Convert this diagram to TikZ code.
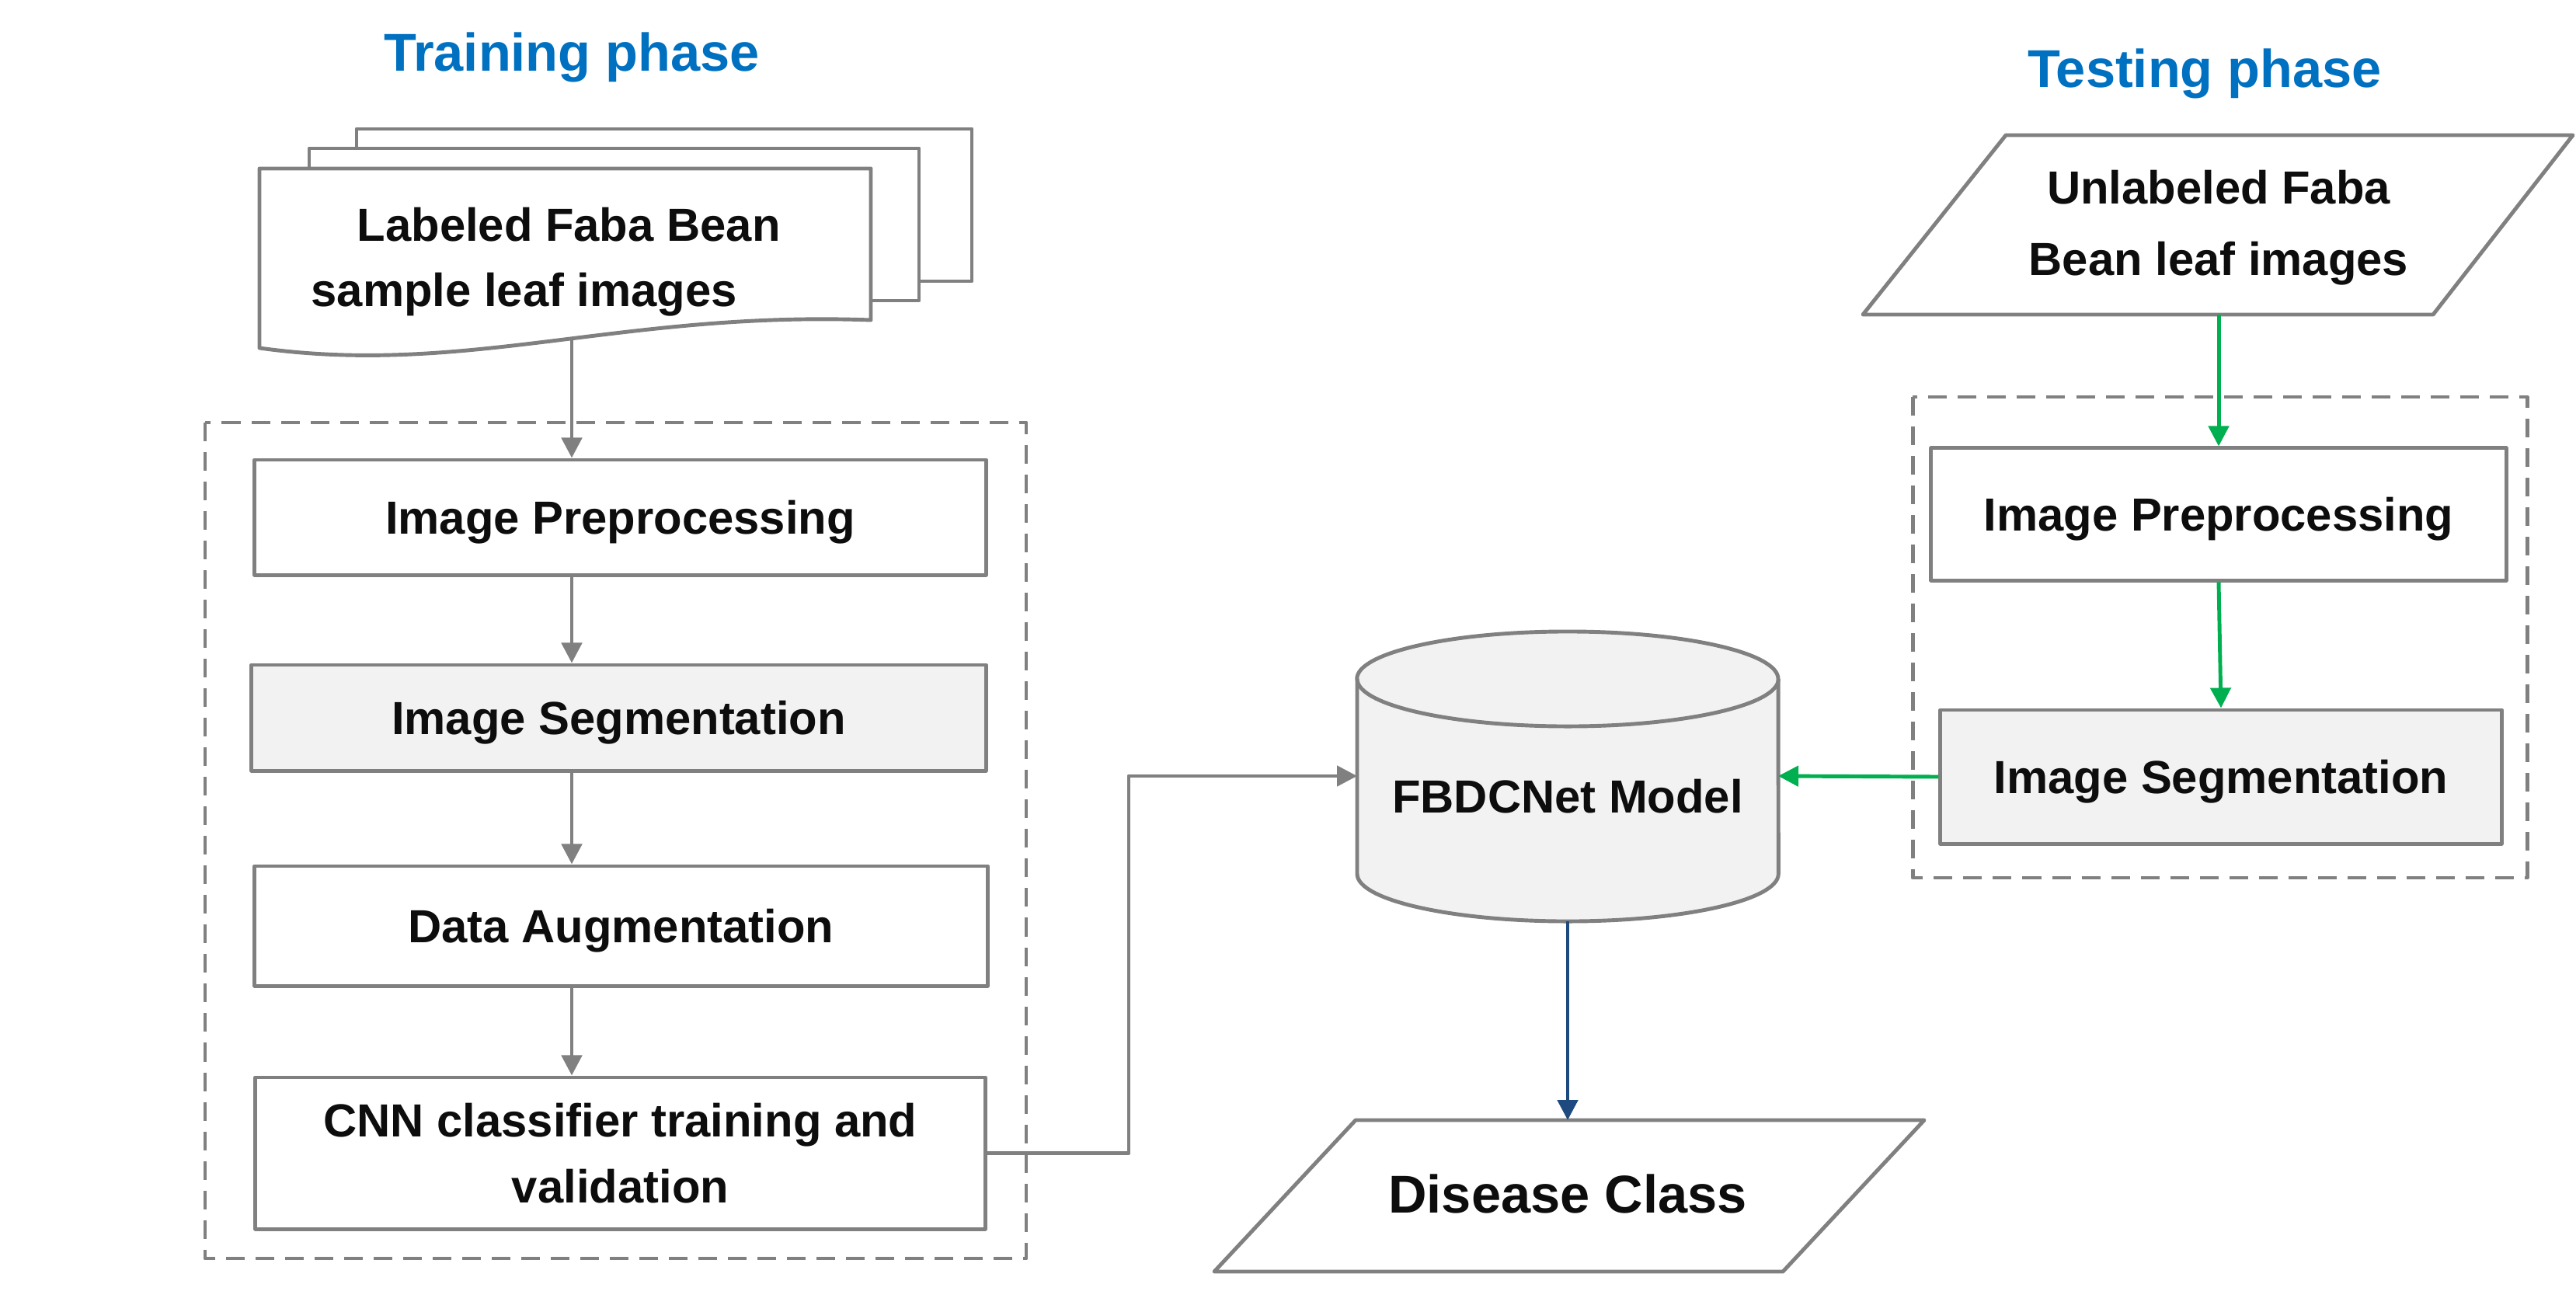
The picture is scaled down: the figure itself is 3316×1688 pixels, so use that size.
\documentclass[tikz,border=0pt]{standalone}
\usepackage{fontspec}
\setmainfont{Liberation Sans}
\usetikzlibrary{arrows.meta}
\definecolor{lgray}{HTML}{808080}
\definecolor{fillg}{HTML}{F2F2F2}
\definecolor{tgreen}{HTML}{00B050}
\definecolor{tblue}{HTML}{0070C0}
\definecolor{dblue}{HTML}{1F4A7F}
\definecolor{txtc}{HTML}{0D0D0D}
\begin{document}
\begin{tikzpicture}[x=0.01cm,y=-0.01cm,line join=round,
  lw/.style={line width=1.4pt},
  txt/.style={font=\bfseries\fontsize{17}{24}\selectfont, text=txtc, align=center, inner sep=0pt},
  box/.style={txt, draw=lgray, lw, fill=white, text depth=0pt},
  gbox/.style={box, fill=fillg},
  shp/.style={draw=lgray, lw, fill=white},
  dbox/.style={draw=lgray, lw, dash pattern=on 0.24cm off 0.14cm},
  title/.style={font=\bfseries\fontsize{19.5}{24}\selectfont, text=tblue, inner sep=0pt},
  tip/.style={-{Triangle[length=0.26cm,width=0.26cm]}},
  arr/.style={tip, lw, draw=lgray},
  garr/.style={tip, lw, draw=tgreen},
  barr/.style={tip, lw, draw=dblue}]
\useasboundingbox (0,0) rectangle (3316,1688);

% titles
\node[title] (t1) at (736,74) {Training phase};
\node[title] (t2) at (2838,95) {Testing phase};

% dashed groups
\draw[dbox] (264,544) rectangle (1321,1620);
\draw[dbox] (2462,511) rectangle (3253,1130);

% multi-document
\draw[shp] (459,166) rectangle (1251,362);
\draw[shp] (398,191) rectangle (1183,387);
\draw[shp] (334,217) -- (1121,217) -- (1121,412) .. controls (800,400) and (600,485) .. (334,448) -- cycle;
\node[txt, align=left, anchor=west] (docs) at (400,337) {\hspace*{0.59cm}Labeled Faba Bean\\sample leaf images};
\coordinate (wave) at (736,437);

% training boxes
\node[box, minimum width=9.41cm, minimum height=1.48cm] (pre) at (798.5,666) {Image Preprocessing};
\node[gbox, minimum width=9.45cm, minimum height=1.36cm] (seg) at (796.5,924) {Image Segmentation};
\node[box, minimum width=9.43cm, minimum height=1.54cm] (aug) at (799.5,1192) {Data Augmentation};
\node[box, minimum width=9.39cm, minimum height=1.95cm] (cnn) at (798.5,1484.5) {CNN classifier training and\\validation};
\coordinate (ax) at (736,0);

% cylinder
\path[fill=fillg, draw=lgray, lw] (1747,874) -- (1747,1125)
  arc[start angle=180, end angle=360, x radius=2.71cm, y radius=0.61cm]
  -- (2289,874)
  arc[start angle=0, end angle=180, x radius=2.71cm, y radius=0.61cm] -- cycle;
\draw[lgray, lw] (1747,874) arc[start angle=180, end angle=360, x radius=2.71cm, y radius=0.61cm];
\node[txt, text depth=0pt] (model) at (2018,1025) {FBDCNet Model};
\coordinate (cylL) at (1747,999);
\coordinate (cylR) at (2289,999);
\coordinate (cylB) at (2018,1186);
\coordinate (bend) at (1453,999);

% disease class
\draw[shp] (1745,1442) -- (2477,1442) -- (2295,1637) -- (1563,1637) -- cycle;
\node[txt, font=\bfseries\fontsize{19.5}{24}\selectfont] (dc) at (2018,1537) {Disease Class};
\coordinate (dctop) at (2018,1442);

% testing input
\node[txt, font=\bfseries\fontsize{17}{26}\selectfont] (unl) at (2856,293) {Unlabeled Faba\\Bean leaf images};
\begin{scope}[on background layer/.style={}]
\end{scope}
\coordinate (unlB) at (2856,405);

\node[box, minimum width=7.40cm, minimum height=1.70cm] (pre2) at (2856,662) {Image Preprocessing};
\node[gbox, minimum width=7.22cm, minimum height=1.72cm] (seg2) at (2859,1000) {Image Segmentation};

% input parallelogram outline (drawn without fill so text stays visible)
\draw[draw=lgray, lw] (2582,174) -- (3312,174) -- (3132,405) -- (2398,405) -- cycle;

% connectors
\draw[arr] (wave) -- (pre.north -| wave);
\draw[arr] (pre.south -| ax) -- (seg.north -| ax);
\draw[arr] (seg.south -| ax) -- (aug.north -| ax);
\draw[arr] (aug.south -| ax) -- (cnn.north -| ax);
\draw[arr] (cnn.east) -| (bend) -- (cylL);
\draw[garr] (unlB) -- (pre2.north);
\draw[garr] (pre2.south) -- (seg2.north);
\draw[garr] (seg2.west) -- (cylR);
\draw[barr] (cylB) -- (dctop);
\end{tikzpicture}
\end{document}
